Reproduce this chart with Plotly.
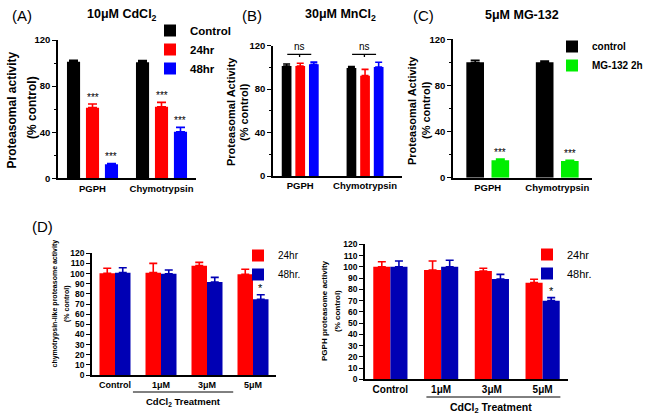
import plotly.graph_objects as go

W, H = 649, 416
FONT = "Arial, Liberation Sans, sans-serif"


def fx(p):
    return p / W


def fy(p):
    return 1 - p / H


# ---------------- DATA ----------------
# Panel A: 10uM CdCl2
a_categories = ["PGPH", "Chymotrypsin"]
a_names = ["Control", "24hr", "48hr"]
a_control = [101.2, 100.6]
a_control_err = [1.2, 1.5]
a_24hr = [61.3, 62.1]
a_24hr_err = [3.2, 3.8]
a_48hr = [12.1, 40.4]
a_48hr_err = [0.8, 3.8]
a_sig_control = ["", ""]
a_sig_24hr = ["***", "***"]
a_sig_48hr = ["***", "***"]

# Panel B: 30uM MnCl2
b_categories = ["PGPH", "Chymotrypsin"]
b_control = [101.3, 99.5]
b_control_err = [1.8, 1.2]
b_24hr = [101.3, 92.4]
b_24hr_err = [2.5, 5.8]
b_48hr = [102.9, 100.4]
b_48hr_err = [2.0, 4.3]
b_bracket_labels = ["ns", "ns"]
b_bracket_level = 112

# Panel C: 5uM MG-132
c_categories = ["PGPH", "Chymotrypsin"]
c_names = ["control", "MG-132 2h"]
c_control = [100.1, 100.1]
c_control_err = [1.7, 1.0]
c_mg132 = [15.1, 14.5]
c_mg132_err = [1.1, 0.6]
c_sig_control = ["", ""]
c_sig_mg132 = ["***", "***"]

# Panel D (left): chymotrypsin-like
d_categories = ["Control", "1μM", "3μM", "5μM"]
d_names = ["24hr", "48hr."]
dl_24hr = [100.3, 100.9, 107.8, 99.3]
dl_24hr_err = [5.0, 9.2, 3.3, 4.9]
dl_48hr = [100.9, 99.9, 91.7, 74.6]
dl_48hr_err = [4.9, 3.6, 4.6, 4.6]
dl_sig_24hr = ["", "", "", ""]
dl_sig_48hr = ["", "", "", "*"]

# Panel D (right): PGPH
dr_24hr = [100.1, 97.2, 96.3, 85.9]
dr_24hr_err = [4.4, 8.0, 2.4, 3.0]
dr_48hr = [100.1, 100.1, 89.2, 69.9]
dr_48hr_err = [5.1, 5.7, 4.1, 2.7]
dr_sig_24hr = ["", "", "", ""]
dr_sig_48hr = ["", "", "", "*"]

y_ticks_abc = [0, 40, 80, 120]
y_ticks_d = list(range(0, 121, 10))

# ---------------- FIGURE ----------------
fig = go.Figure()
annotations = []
shapes = []

BLACK = "#000000"
RED = "#ff0000"
BLUE = "#0000ff"
GREEN = "#00ee00"
DRED = "#ff0000"
DBLUE = "#0000b4"


def add_group(ax, series, width, step, legend, showlegend, err_cap, star_size):
    n = len(series)
    xref = "x" if ax == 1 else f"x{ax}"
    yref = "y" if ax == 1 else f"y{ax}"
    for i, (name, vals, errs, color, sigs) in enumerate(series):
        center = (i - (n - 1) / 2) * step
        xs = list(range(len(vals)))
        fig.add_trace(go.Bar(
            x=xs, y=vals, name=name,
            width=[width] * len(vals), offset=[center - width / 2] * len(vals),
            marker=dict(color=color, line=dict(width=0)),
            error_y=dict(type="data", array=errs, arrayminus=[0] * len(errs),
                         symmetric=False, color=color, thickness=1.6, width=err_cap),
            xaxis=xref, yaxis=yref, legend=legend, showlegend=showlegend,
        ))
        if sigs:
            for k, s in enumerate(sigs):
                if s:
                    annotations.append(dict(
                        x=xs[k] + center, y=vals[k] + errs[k], xref=xref, yref=yref,
                        text=s, showarrow=False, yanchor="bottom", yshift=-1,
                        font=dict(family=FONT, size=star_size, color="black")))


add_group(1, [
    (a_names[0], a_control, a_control_err, BLACK, a_sig_control),
    (a_names[1], a_24hr, a_24hr_err, RED, a_sig_24hr),
    (a_names[2], a_48hr, a_48hr_err, BLUE, a_sig_48hr),
], width=0.19, step=0.275, legend="legend", showlegend=True, err_cap=4.5, star_size=10)

add_group(2, [
    (a_names[0], b_control, b_control_err, BLACK, None),
    (a_names[1], b_24hr, b_24hr_err, RED, None),
    (a_names[2], b_48hr, b_48hr_err, BLUE, None),
], width=0.15, step=0.21, legend="legend", showlegend=False, err_cap=3.5, star_size=10)

add_group(3, [
    (c_names[0], c_control, c_control_err, BLACK, c_sig_control),
    (c_names[1], c_mg132, c_mg132_err, GREEN, c_sig_mg132),
], width=0.254, step=0.362, legend="legend2", showlegend=True, err_cap=4.5, star_size=10)

add_group(4, [
    (d_names[0], dl_24hr, dl_24hr_err, DRED, dl_sig_24hr),
    (d_names[1], dl_48hr, dl_48hr_err, DBLUE, dl_sig_48hr),
], width=0.337, step=0.337, legend="legend3", showlegend=True, err_cap=4, star_size=11)

add_group(5, [
    (d_names[0], dr_24hr, dr_24hr_err, DRED, dr_sig_24hr),
    (d_names[1], dr_48hr, dr_48hr_err, DBLUE, dr_sig_48hr),
], width=0.337, step=0.337, legend="legend4", showlegend=True, err_cap=4, star_size=11)

# ns brackets in panel B
for k, lab in enumerate(b_bracket_labels):
    shapes.append(dict(type="line", xref="x2", yref="y2", x0=k - 0.2, x1=k + 0.17,
                       y0=b_bracket_level, y1=b_bracket_level, line=dict(color="black", width=1.3)))
    shapes.append(dict(type="line", xref="x2", yref="y2", x0=k - 0.01, x1=k - 0.01,
                       y0=b_bracket_level, y1=b_bracket_level - 2.5, line=dict(color="black", width=1.3)))
    annotations.append(dict(x=k - 0.01, y=b_bracket_level, xref="x2", yref="y2", text=lab,
                            showarrow=False, yanchor="bottom", yshift=0,
                            font=dict(family=FONT, size=10, color="black")))

# CdCl2 treatment lines (panel D)
shapes.append(dict(type="line", xref="x4", yref="paper", x0=0.39, x1=2.57,
                   y0=fy(392), y1=fy(392), line=dict(color="black", width=1)))
shapes.append(dict(type="line", xref="x5", yref="paper", x0=0.71, x1=3.35,
                   y0=fy(397), y1=fy(397), line=dict(color="black", width=1)))
annotations.append(dict(x=1.48, y=fy(393.5), xref="x4", yref="paper", showarrow=False,
                        text="<b>CdCl<sub>2</sub> Treatment</b>", yanchor="top",
                        font=dict(family=FONT, size=9.5, color="black")))
annotations.append(dict(x=1.98, y=fy(398.5), xref="x5", yref="paper", showarrow=False,
                        text="<b>CdCl<sub>2</sub> Treatment</b>", yanchor="top",
                        font=dict(family=FONT, size=10.5, color="black")))


def paper_text(x, y, text, size, bold=False, angle=0):
    annotations.append(dict(x=fx(x), y=fy(y), xref="paper", yref="paper", showarrow=False,
                            text=f"<b>{text}</b>" if bold else text, textangle=angle,
                            xanchor="center", yanchor="middle",
                            font=dict(family=FONT, size=size, color="black")))


# Panel labels and titles
paper_text(22, 16, "(A)", 15)
paper_text(252, 16, "(B)", 15)
paper_text(424, 16, "(C)", 15)
paper_text(42, 227, "(D)", 15)
paper_text(122, 15, "10μM CdCl<sub>2</sub>", 12.5, bold=True)
paper_text(340, 15, "30μM MnCl<sub>2</sub>", 12.5, bold=True)
paper_text(522, 15, "5μM MG-132", 12.5, bold=True)

# Y axis titles
paper_text(11.5, 110, "Proteasomal activity", 12, bold=True, angle=-90)
paper_text(32, 108, "(% control)", 12, bold=True, angle=-90)
paper_text(231, 112, "Proteasomal Activity", 11, bold=True, angle=-90)
paper_text(244, 112, "(% control)", 11, bold=True, angle=-90)
paper_text(412, 110, "Proteasomal Activity", 11, bold=True, angle=-90)
paper_text(426, 110, "(% control)", 11, bold=True, angle=-90)
paper_text(54.5, 304, "chymotrypsin-like proteasome activity", 7, bold=True, angle=-90)
paper_text(67, 304, "(% control)", 7, bold=True, angle=-90)
paper_text(324, 311, "PGPH proteasome activity", 8, bold=True, angle=-90)
paper_text(337, 311, "(% control)", 8, bold=True, angle=-90)


def yaxis(domain, ticks, anchor, size, minor):
    d = dict(domain=domain, range=[0, 120], tickvals=ticks, anchor=anchor,
             showline=True, linecolor="black", linewidth=1.6, ticks="outside",
             ticklen=4, tickwidth=1.4, tickcolor="black", showgrid=False, zeroline=False,
             tickfont=dict(family=FONT, size=size, color="black", weight="bold"),
             fixedrange=True, automargin=False)
    if minor:
        d["minor"] = dict(dtick=20, ticks="outside", ticklen=2.5, tickwidth=1, tickcolor="black")
    return d


def xaxis(domain, rng, cats, anchor, size):
    return dict(domain=domain, range=rng, tickvals=list(range(len(cats))), ticktext=cats,
                anchor=anchor, showline=True, linecolor="black", linewidth=1.6,
                ticks="", showgrid=False,
                zeroline=False, tickfont=dict(family=FONT, size=size, color="black", weight="bold"),
                fixedrange=True, automargin=False)


fig.update_layout(
    width=W, height=H, autosize=False,
    margin=dict(l=0, r=0, t=0, b=0, pad=0, autoexpand=False),
    paper_bgcolor="white", plot_bgcolor="white",
    barmode="overlay",
    font=dict(family=FONT, color="black"),
    xaxis=xaxis([fx(58), fx(196)], [-0.5, 1.5], a_categories, "y", 9.5),
    yaxis=yaxis([fy(178.3), fy(40)], y_ticks_abc, "x", 9.5, True),
    xaxis2=xaxis([fx(273), fx(402)], [-0.42, 1.57], b_categories, "y2", 9.5),
    yaxis2=yaxis([fy(176), fy(45.7)], y_ticks_abc, "x2", 9.5, True),
    xaxis3=xaxis([fx(453), fx(592)], [-0.5, 1.5], c_categories, "y3", 9.5),
    yaxis3=yaxis([fy(177.7), fy(39.3)], y_ticks_abc, "x3", 9.5, True),
    xaxis4=xaxis([fx(92), fx(276)], [-0.5, 3.5], d_categories, "y4", 9),
    yaxis4=yaxis([fy(375), fy(253.3)], y_ticks_d, "x4", 8.5, False),
    xaxis5=xaxis([fx(365), fx(568)], [-0.5, 3.5], d_categories, "y5", 10),
    yaxis5=yaxis([fy(379.3), fy(244.3)], y_ticks_d, "x5", 8.5, False),
    legend=dict(x=fx(150), y=fy(16), xanchor="left", yanchor="top", bgcolor="rgba(0,0,0,0)",
                font=dict(family=FONT, size=11.5, color="black", weight="bold"),
                tracegroupgap=0, itemclick=False),
    legend2=dict(x=fx(552), y=fy(32), xanchor="left", yanchor="top", bgcolor="rgba(0,0,0,0)",
                 font=dict(family=FONT, size=10, color="black", weight="bold"),
                 tracegroupgap=0, itemclick=False),
    legend3=dict(x=fx(238), y=fy(241), xanchor="left", yanchor="top", bgcolor="rgba(0,0,0,0)",
                 font=dict(family=FONT, size=10, color="black"),
                 tracegroupgap=0, itemclick=False),
    legend4=dict(x=fx(527), y=fy(240), xanchor="left", yanchor="top", bgcolor="rgba(0,0,0,0)",
                 font=dict(family=FONT, size=11, color="black"),
                 tracegroupgap=0, itemclick=False),
    annotations=annotations,
    shapes=shapes,
)

fig.write_html("out.html", config={"displayModeBar": False},
               post_script="document.body.style.margin='0px';")
